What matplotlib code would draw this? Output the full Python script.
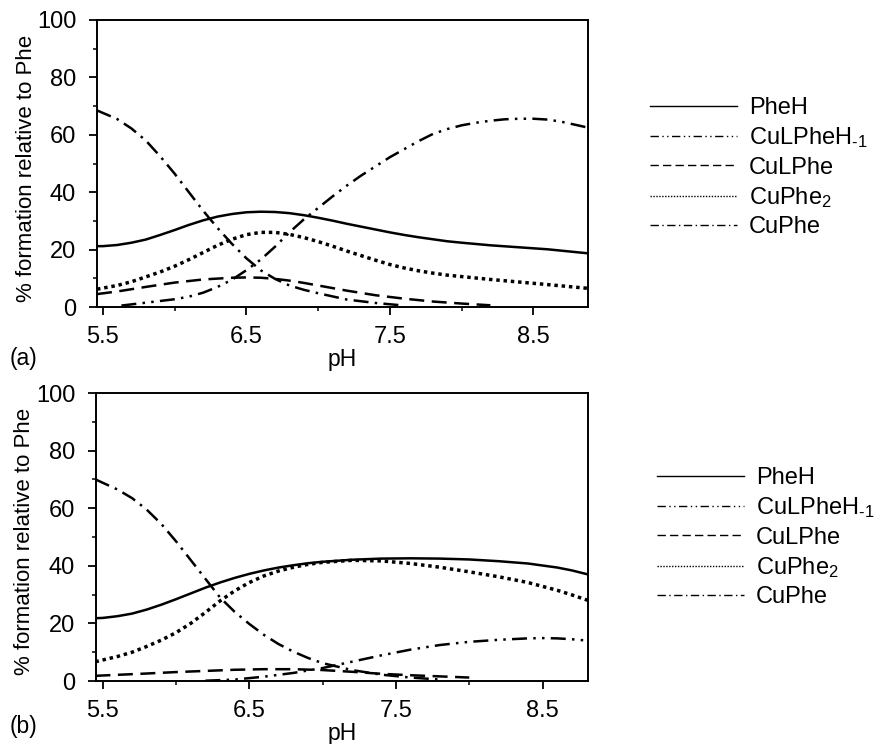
import matplotlib.pyplot as plt
from matplotlib import rcParams
from matplotlib.lines import Line2D
from matplotlib.ticker import MultipleLocator, FixedLocator

rcParams.update({
    "font.family": ["Liberation Sans", "DejaVu Sans"],
    "font.size": 17,
    "mathtext.fontset": "custom",
    "mathtext.rm": "Liberation Sans",
    "mathtext.it": "Liberation Sans:italic",
})

# ---- panel (a) ----
a_ph_pheh = [5.46, 5.5, 5.6, 5.7, 5.8, 5.9, 6.0, 6.1, 6.2, 6.3, 6.4, 6.5, 6.6, 6.7, 6.8, 6.9, 7.0,
             7.1, 7.2, 7.3, 7.4, 7.5, 7.6, 7.7, 7.8, 7.9, 8.0, 8.2, 8.4, 8.6, 8.88]
a_pheh = [21.2, 21.2, 21.6, 22.4, 23.5, 25.1, 26.8, 28.6, 30.2, 31.5, 32.4, 33.0, 33.2, 33.1, 32.7,
          32.0, 31.1, 30.1, 29.0, 28.0, 27.0, 26.0, 25.1, 24.3, 23.6, 22.9, 22.4, 21.5, 20.8, 20.1, 18.7]

a_ph_cuphe2 = [5.46, 5.6, 5.7, 5.8, 5.9, 6.0, 6.1, 6.2, 6.3, 6.4, 6.5, 6.6, 6.7, 6.8, 6.9, 7.0, 7.1,
               7.2, 7.3, 7.4, 7.5, 7.6, 7.7, 7.8, 7.9, 8.0, 8.2, 8.4, 8.6, 8.88]
a_cuphe2 = [6.2, 7.5, 8.8, 10.5, 12.2, 14.2, 16.5, 19.0, 21.5, 23.6, 25.2, 26.0, 26.0, 25.3, 24.2,
            22.8, 21.2, 19.5, 17.9, 16.3, 14.8, 13.6, 12.6, 11.8, 11.1, 10.6, 9.6, 8.7, 7.8, 6.5]

a_ph_h1 = [5.63, 5.8, 6.0, 6.1, 6.2, 6.3, 6.4, 6.5, 6.6, 6.7, 6.8, 6.9, 7.0, 7.1, 7.2, 7.3, 7.4,
           7.5, 7.6, 7.7, 7.8, 7.9, 8.0, 8.1, 8.2, 8.3, 8.4, 8.5, 8.6, 8.7, 8.8, 8.88]
a_culpheh1 = [0.5, 1.5, 2.7, 3.6, 5.0, 7.0, 9.5, 12.8, 16.5, 21.0, 26.0, 30.5, 34.5, 38.5, 42.3,
              45.8, 49.0, 52.2, 55.0, 57.8, 60.3, 62.0, 63.3, 64.2, 64.9, 65.4, 65.6, 65.6, 65.3,
              64.5, 63.4, 62.5]

a_ph_culphe = [5.46, 5.6, 5.8, 6.0, 6.2, 6.4, 6.5, 6.6, 6.7, 6.8, 6.9, 7.0, 7.2, 7.4, 7.6, 7.8,
               8.0, 8.2]
a_culphe = [4.5, 5.4, 7.0, 8.5, 9.6, 10.2, 10.3, 10.2, 9.8, 9.2, 8.4, 7.5, 5.7, 4.1, 2.9, 1.9,
            1.2, 0.6]

a_ph_cuphe = [5.46, 5.6, 5.7, 5.8, 5.9, 6.0, 6.1, 6.2, 6.3, 6.4, 6.5, 6.6, 6.7, 6.8, 6.9, 7.0,
              7.2, 7.4, 7.6]
a_cuphe = [68.5, 65.5, 62.2, 58.0, 52.5, 46.5, 40.0, 33.5, 27.5, 22.0, 17.0, 12.8, 9.8, 7.5, 6.0,
           4.8, 2.6, 1.4, 0.5]

# ---- panel (b) ----
b_ph_pheh = [5.45, 5.5, 5.6, 5.7, 5.8, 5.9, 6.0, 6.1, 6.2, 6.3, 6.4, 6.5, 6.6, 6.7, 6.8, 6.9, 7.0,
             7.2, 7.4, 7.6, 7.8, 8.0, 8.2, 8.4, 8.6, 8.7, 8.81]
b_pheh = [21.8, 21.9, 22.5, 23.4, 24.8, 26.5, 28.4, 30.4, 32.4, 34.2, 35.8, 37.2, 38.4, 39.4, 40.2,
          40.9, 41.4, 42.1, 42.5, 42.6, 42.5, 42.2, 41.6, 40.8, 39.4, 38.4, 37.0]

b_ph_cuphe2 = [5.45, 5.6, 5.7, 5.8, 5.9, 6.0, 6.1, 6.2, 6.3, 6.4, 6.5, 6.6, 6.7, 6.8, 6.9, 7.0,
               7.2, 7.4, 7.6, 7.8, 8.0, 8.2, 8.4, 8.6, 8.7, 8.81]
b_cuphe2 = [6.7, 8.5, 10.0, 12.0, 14.2, 16.8, 20.0, 23.8, 27.8, 31.3, 34.2, 36.5, 38.2, 39.5, 40.5,
            41.2, 41.9, 41.7, 40.8, 39.5, 37.9, 36.2, 34.2, 31.5, 29.9, 28.0]

b_ph_h1 = [6.2, 6.4, 6.6, 6.8, 7.0, 7.1, 7.2, 7.4, 7.6, 7.8, 8.0, 8.2, 8.4, 8.5, 8.6, 8.7, 8.81]
b_culpheh1 = [0.1, 0.5, 1.5, 2.8, 4.5, 5.6, 6.7, 8.9, 10.9, 12.5, 13.6, 14.3, 14.8, 14.9, 14.8,
              14.5, 14.0]

b_ph_culphe = [5.45, 5.8, 6.0, 6.2, 6.4, 6.6, 6.8, 7.0, 7.2, 7.4, 7.6, 7.8, 8.0]
b_culphe = [1.8, 2.6, 3.1, 3.5, 3.9, 4.1, 4.1, 3.8, 3.2, 2.5, 2.0, 1.6, 1.2]

b_ph_cuphe = [5.45, 5.6, 5.7, 5.8, 5.9, 6.0, 6.1, 6.2, 6.3, 6.4, 6.5, 6.6, 6.7, 6.8, 6.9, 7.0,
              7.2, 7.4, 7.6, 7.8]
b_cuphe = [70.0, 66.5, 63.5, 59.5, 54.5, 48.5, 42.0, 35.5, 29.0, 24.0, 19.8, 16.0, 12.8, 10.2,
           8.0, 6.2, 3.8, 2.2, 1.2, 0.5]

labels = ['PheH', r'CuLPheH$_{\text{-}1}$', 'CuLPhe', 'CuPhe$_2$', 'CuPhe']

# solid, dash-dot-dot, dashed, dotted, dash-dot
styles = [
    dict(linestyle='-'),
    dict(linestyle=(0, (6, 2.5, 1, 2.5, 1, 2.5))),
    dict(linestyle=(0, (6, 3))),
    dict(linestyle=(0, (1, 1.1)), dash_capstyle='butt'),
    dict(linestyle=(0, (6, 2.5, 1, 2.5))),
]
widths = [1.8, 1.8, 1.8, 2.5, 1.8]

fig = plt.figure(figsize=(8.79, 7.44), dpi=100)
ax1 = fig.add_axes([97 / 879, 1 - 307 / 744, 491 / 879, 287 / 744])
ax2 = fig.add_axes([96 / 879, 1 - 681 / 744, 492 / 879, 288 / 744])

series_a = [(a_ph_pheh, a_pheh), (a_ph_h1, a_culpheh1), (a_ph_culphe, a_culphe),
            (a_ph_cuphe2, a_cuphe2), (a_ph_cuphe, a_cuphe)]
series_b = [(b_ph_pheh, b_pheh), (b_ph_h1, b_culpheh1), (b_ph_culphe, b_culphe),
            (b_ph_cuphe2, b_cuphe2), (b_ph_cuphe, b_cuphe)]

for (xs, ys), st, w in zip(series_a, styles, widths):
    ax1.plot(xs, ys, color='k', lw=w, **st)
for (xs, ys), st, w in zip(series_b, styles, widths):
    ax2.plot(xs, ys, color='k', lw=w, **st)

ax1.set_xlim(5.46, 8.88)
ax2.set_xlim(5.454, 8.81)

for ax, leg_y, leg_x in [(ax1, 97, 650), (ax2, 467, 657)]:
    ax.set_ylim(0, 100)
    ax.xaxis.set_major_locator(FixedLocator([5.5, 6.5, 7.5, 8.5]))
    ax.xaxis.set_minor_locator(FixedLocator([6.0, 7.0, 8.0]))
    ax.yaxis.set_major_locator(MultipleLocator(20))
    ax.yaxis.set_minor_locator(MultipleLocator(10))
    ax.tick_params(which='major', direction='out', length=6, width=1.3)
    ax.tick_params(which='minor', direction='out', length=3, width=1.1)
    ax.tick_params(axis='x', which='major', pad=8)
    ax.tick_params(axis='y', which='major', pad=9)
    for s in ax.spines.values():
        s.set_linewidth(1.4)
    ax.set_xlabel('pH', fontsize=16.5)
    ax.xaxis.set_label_coords(0.5, -0.143)
    ax.set_ylabel('% formation relative to Phe', fontsize=16)
    ax.yaxis.set_label_coords(-0.123, 0.484)

    handles = [Line2D([], [], color='k', lw=1.0, **s) for s in styles]
    fig.legend(handles, labels, loc='upper left', frameon=False,
               bbox_to_anchor=(leg_x / 879, 1 - leg_y / 744),
               borderpad=0, borderaxespad=0, handlelength=3.7,
               handletextpad=0.5, labelspacing=0.27, fontsize=17)

fig.text(10 / 879, 1 - 359 / 744, '(a)', va='center', ha='left', fontsize=16.5)
fig.text(10 / 879, 1 - 727 / 744, '(b)', va='center', ha='left', fontsize=16.5)

plt.savefig('out.png', dpi=100)
